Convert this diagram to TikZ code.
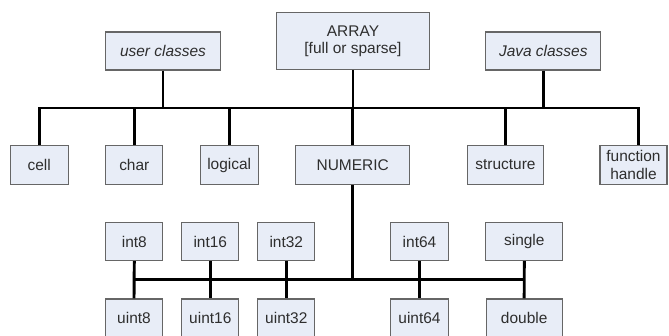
\documentclass[tikz,border=0pt]{standalone}
\usepackage{fontspec}
\setmainfont{Liberation Sans}
\definecolor{boxfill}{HTML}{E8EDF7}
\definecolor{boxedge}{HTML}{666666}
\definecolor{boxtext}{HTML}{2E2E2E}
\tikzset{
  typebox/.style={draw=boxedge, fill=boxfill, line width=0.8pt, inner sep=0pt,
    align=center, text=boxtext, font=\fontsize{11.6}{13.3}\selectfont},
  sz/.style 2 args={minimum width=#1*0.75pt, minimum height=#2*0.75pt},
  link/.style={line width=2.2pt, black}
}
\begin{document}
\begin{tikzpicture}[x=0.75pt, y=-0.75pt]
\useasboundingbox (0,0) rectangle (669,336);
\clip (0,0) rectangle (669,336);

% top level
\node[typebox, sz={114.3}{38}] (user) at (163,51) {\itshape user classes};
\node[typebox, sz={152.6}{57.3}] (array) at (353,41.3) {ARRAY\\{}[full or sparse]};
\node[typebox, sz={114.7}{38}] (java) at (543.3,51) {\itshape Java classes};

% second level
\node[typebox, sz={57.7}{38.6}] (cell) at (39.2,165) {cell};
\node[typebox, sz={57.3}{38.6}] (char) at (134.3,165) {char};
\node[typebox, sz={57.7}{38.6}] (logical) at (229.2,165) {logical};
\node[typebox, sz={114}{38.6}] (numeric) at (352.7,165) {NUMERIC};
\node[typebox, sz={76.4}{38.6}] (structure) at (505.5,165) {structure};
\node[typebox, sz={67}{38.6}] (fh) at (633.5,165) {function\\handle};

% numeric types
\node[typebox, sz={57.3}{38.4}] (int8) at (134.3,241.5) {int8};
\node[typebox, sz={57.3}{38.4}] (int16) at (210.3,241.5) {int16};
\node[typebox, sz={57.3}{38.4}] (int32) at (286.3,241.5) {int32};
\node[typebox, sz={57.6}{38.4}] (int64) at (419.5,241.5) {int64};
\node[typebox, sz={76.7}{38.4}] (single) at (524.3,241.5) {single};

\node[typebox, sz={56.6}{38.4}] (uint8) at (134,318.2) {uint8};
\node[typebox, sz={57.3}{38.4}] (uint16) at (210.3,318.2) {uint16};
\node[typebox, sz={57.3}{38.4}] (uint32) at (286.3,318.2) {uint32};
\node[typebox, sz={57.6}{38.4}] (uint64) at (419.5,318.2) {uint64};
\node[typebox, sz={76.3}{38.4}] (double) at (524.2,318.2) {double};

% bus rails and the off-centre attachment point of "function handle"
\coordinate (busA) at (0,108);
\coordinate (busB) at (0,279.3);
\coordinate (fhtop) at (638.3,165);

% upper bus
\draw[link] (cell.north) -- (cell.north |- busA) -- (fhtop |- busA) -- (fhtop |- fh.north);
\draw[link] (user.south) -- (user.south |- busA);
\draw[link] (array.south) -- (array.south |- busA);
\draw[link] (java.south) -- (java.south |- busA);
\draw[link] (char.north) -- (char.north |- busA);
\draw[link] (logical.north) -- (logical.north |- busA);
\draw[link] (numeric.north) -- (numeric.north |- busA);
\draw[link] (structure.north) -- (structure.north |- busA);

% lower bus
\draw[link] (int8.south |- busB) -- (single.south |- busB);
\draw[link] (numeric.south) -- (numeric.south |- busB);
\draw[link] (int8.south) -- (uint8.north);
\draw[link] (int16.south) -- (uint16.north);
\draw[link] (int32.south) -- (uint32.north);
\draw[link] (int64.south) -- (uint64.north);
\draw[link] (single.south) -- (double.north);
\end{tikzpicture}
\end{document}
